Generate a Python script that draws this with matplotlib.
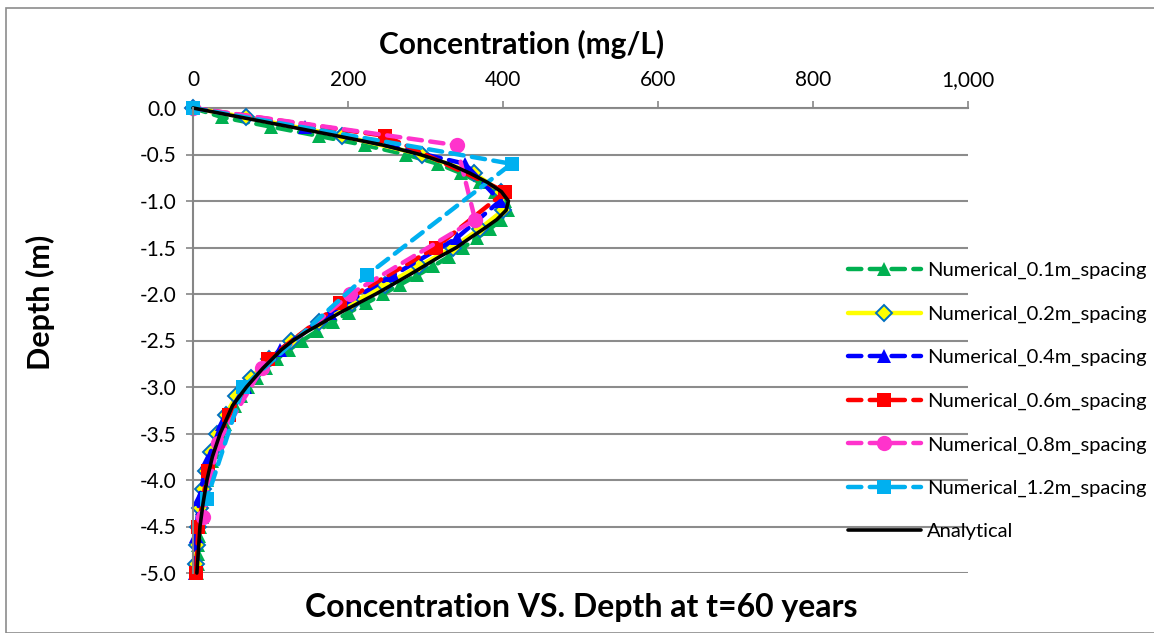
import matplotlib
matplotlib.use("Agg")
import matplotlib.pyplot as plt
from matplotlib.patches import Rectangle

plt.rcParams['font.family'] = ['Lato', 'DejaVu Sans']

# ---------------- data ----------------
analytical_depth = [0, -0.1, -0.2, -0.3, -0.4, -0.5, -0.6, -0.7, -0.8, -0.9, -1.0, -1.1, -1.2,
                    -1.3, -1.4, -1.5, -1.6, -1.7, -1.8, -1.9, -2.0, -2.2, -2.4, -2.5, -2.6,
                    -2.8, -3.0, -3.2, -3.5, -3.75, -4.0, -4.25, -4.5, -4.75, -5.0]
analytical_conc = [0, 62, 124, 186, 246, 293, 330, 357, 380, 398, 407, 404, 392,
                   375, 357, 340, 318, 298, 278, 257, 236, 190, 148, 129, 114,
                   90, 69, 51, 35, 25, 18, 13, 9, 7, 5]

d01_depth = [0, -0.1, -0.2, -0.3, -0.4, -0.5, -0.6, -0.7, -0.8, -0.9, -1.0, -1.1, -1.2, -1.3,
             -1.4, -1.5, -1.6, -1.7, -1.8, -1.9, -2.0, -2.1, -2.2, -2.3, -2.4, -2.5, -2.6,
             -2.7, -2.8, -2.9, -3.0, -3.1, -3.2, -3.3, -3.4, -3.5, -3.6, -3.7, -3.8, -3.9,
             -4.0, -4.1, -4.2, -4.3, -4.4, -4.5, -4.6, -4.7, -4.8, -4.9, -5.0]
d01_conc = [0, 38, 100, 162, 222, 275, 316, 346, 370, 390, 403, 406, 398, 383,
            366, 349, 330, 310, 289, 267, 245, 223, 201, 180, 160, 141, 124,
            108, 94, 82, 71, 62, 54, 47, 41, 36, 31, 27, 24, 21,
            18, 16, 14, 12, 11, 9, 8, 7, 6, 6, 5]

d02_depth = [0, -0.1, -0.3, -0.5, -0.7, -0.9, -1.1, -1.3, -1.5, -1.7, -1.9, -2.1, -2.3,
             -2.5, -2.7, -2.9, -3.1, -3.3, -3.5, -3.7, -3.9, -4.1, -4.3, -4.5, -4.7, -4.9]
d02_conc = [0, 68, 192, 295, 362, 398, 400, 370, 335, 292, 248, 205, 163,
            127, 98, 75, 56, 42, 31, 23, 17, 13, 9, 7, 5, 4]

d04_depth = [0, -0.2, -0.6, -1.0, -1.4, -1.8, -2.2, -2.6, -3.0, -3.4, -3.8, -4.2, -4.6, -5.0]
d04_conc = [0, 145, 351, 396, 340, 258, 177, 112, 67, 37, 18, 8, 4, 3]

d06_depth = [0, -0.3, -0.9, -1.5, -2.1, -2.7, -3.3, -3.9, -4.5, -5.0]
d06_conc = [0, 248, 403, 313, 190, 97, 46, 19, 7, 4]

d08_depth = [0, -0.4, -1.2, -2.0, -2.8, -3.6, -4.4]
d08_conc = [0, 340, 364, 203, 89, 32, 13]

d12_depth = [0, -0.6, -1.8, -3.0, -4.2]
d12_conc = [0, 411, 224, 65, 18]

series_labels = ['Numerical_0.1m_spacing', 'Numerical_0.2m_spacing', 'Numerical_0.4m_spacing',
                 'Numerical_0.6m_spacing', 'Numerical_0.8m_spacing', 'Numerical_1.2m_spacing',
                 'Analytical']

x_ticks = [0, 200, 400, 600, 800, 1000]
x_tick_labels = ['0', '200', '400', '600', '800', '1,000']
y_ticks = [0.0, -0.5, -1.0, -1.5, -2.0, -2.5, -3.0, -3.5, -4.0, -4.5, -5.0]
y_tick_labels = ['0.0', '-0.5', '-1.0', '-1.5', '-2.0', '-2.5', '-3.0', '-3.5', '-4.0', '-4.5', '-5.0']

# ---------------- figure ----------------
W, H = 1154, 633
fig = plt.figure(figsize=(W / 100, H / 100), dpi=100)
fig.patch.set_facecolor('white')
fig.patches.append(Rectangle((6 / W, 0), (W + 20) / W, 1 - 8 / H, transform=fig.transFigure,
                             fill=False, edgecolor='#8c8c8c', linewidth=1.2, clip_on=False))

L, R, T, B = 193, 968, 108, 573
ax = fig.add_axes([L / W, 1 - B / H, (R - L) / W, (B - T) / H])

dash = (0, (3.0, 1.9))
lw = 3.2
common = dict(linewidth=lw, dash_capstyle='round', solid_capstyle='round', clip_on=False)

ax.plot(d01_conc, d01_depth, color='#00B050', linestyle=dash, marker='^', markersize=10,
        markeredgewidth=0, label=series_labels[0], **common)
ax.plot(d02_conc, d02_depth, color='#FFFF00', linestyle='-', marker='D', markersize=8,
        markerfacecolor='#FFFF00', markeredgecolor='#0070C0', markeredgewidth=1.4,
        label=series_labels[1], **common)
ax.plot(d04_conc, d04_depth, color='#0000FF', linestyle=dash, marker='^', markersize=10.5,
        markeredgewidth=0, label=series_labels[2], **common)
ax.plot(d06_conc, d06_depth, color='#FF0000', linestyle=dash, marker='s', markersize=9.5,
        markeredgewidth=0, label=series_labels[3], **common)
ax.plot(d08_conc, d08_depth, color='#FF33CC', linestyle=dash, marker='o', markersize=11,
        markeredgewidth=0, label=series_labels[4], **common)
ax.plot(d12_conc, d12_depth, color='#00B0F0', linestyle=dash, marker='s', markersize=9.5,
        markeredgewidth=0, label=series_labels[5], **common)
ax.plot(analytical_conc, analytical_depth, color='black', linestyle='-', linewidth=2.6,
        label=series_labels[6], solid_capstyle='round', clip_on=False)

ax.set_xlim(0, 1000)
ax.set_ylim(-5.0, 0.0)
ax.xaxis.tick_top()
ax.set_xticks(x_ticks)
ax.set_xticklabels(x_tick_labels)
ax.set_yticks(y_ticks)
ax.set_yticklabels(y_tick_labels)
ax.tick_params(axis='both', which='both', direction='out', length=5, width=1.2,
               color='#868686', labelsize=15, labelcolor='black')
ax.tick_params(axis='x', pad=8)
ax.tick_params(axis='y', pad=7)

ax.yaxis.grid(True, color='#8c8c8c', linewidth=1.5)
ax.set_axisbelow(True)
for s in ['right', 'bottom']:
    ax.spines[s].set_visible(False)
for s in ['left', 'top']:
    ax.spines[s].set_color('#868686')
    ax.spines[s].set_linewidth(1.5)
ax.spines['top'].set_zorder(0.5)
ax.patch.set_alpha(0)

fig.text(522 / W, 1 - 44 / H, 'Concentration (mg/L)', ha='center', va='center',
         fontsize=21.5, fontweight='bold')
fig.text(40 / W, 1 - 302 / H, 'Depth (m)', ha='center', va='center', rotation=90,
         fontsize=22, fontweight='bold')
fig.text(581 / W, 1 - 608 / H, 'Concentration VS. Depth at t=60 years', ha='center',
         va='center', fontsize=23, fontweight='bold')

leg = fig.legend(loc='upper left', bbox_to_anchor=(848 / W, 1 - 262 / H),
                 frameon=False, fontsize=14.5, handlelength=3.6, handletextpad=0.33,
                 labelspacing=1.3, borderpad=0, borderaxespad=0, numpoints=1)

fig.savefig('out.png', dpi=100, facecolor='white')
